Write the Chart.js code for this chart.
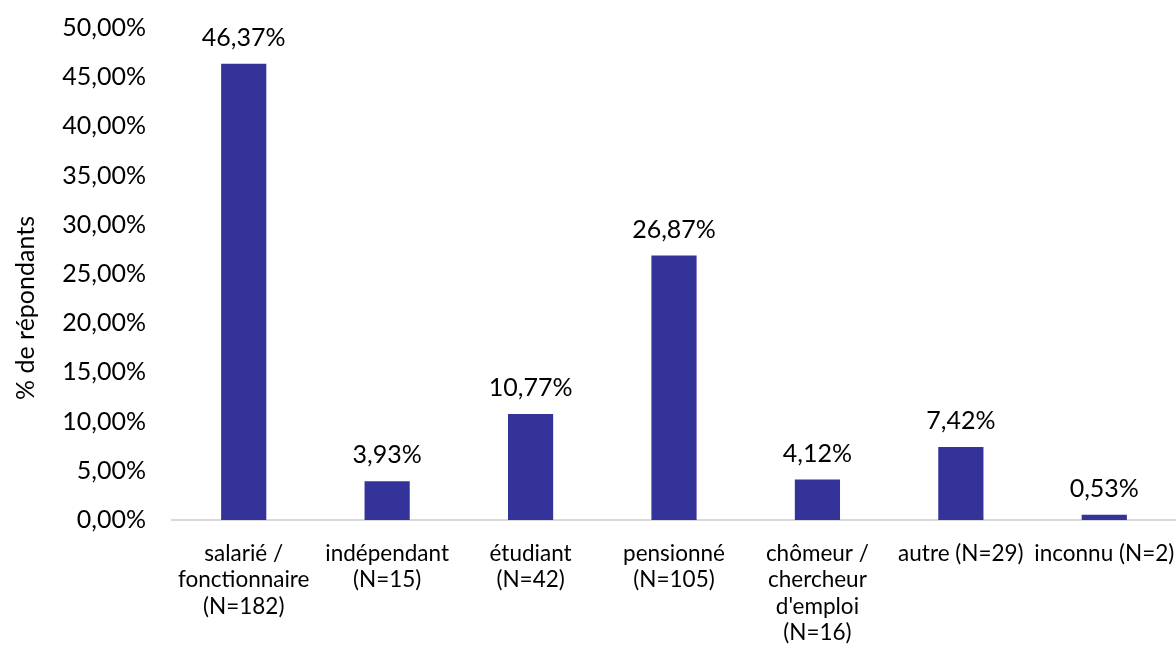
<!DOCTYPE html>
<html>
<head>
<meta charset="utf-8">
<script src="https://cdn.jsdelivr.net/npm/chart.js@4"></script>
<style>
  html, body { margin: 0; padding: 0; background: #fff; }
  #wrap { width: 1176px; height: 651px; }
</style>
</head>
<body>
<div id="wrap"><canvas id="statut"></canvas></div>
<script>
// categories (multi-line labels) and share of respondents in %
const categories = [
    ['salarié /', 'fonctionnaire', '(N=182)'],
    ['indépendant', '(N=15)'],
    ['étudiant', '(N=42)'],
    ['pensionné', '(N=105)'],
    ['chômeur /', 'chercheur', "d'emploi", '(N=16)'],
    ['autre (N=29)'],
    ['inconnu (N=2)']
];
const pourcentages = [46.37, 3.93, 10.77, 26.87, 4.12, 7.42, 0.53];
const yMax = 50;
const yStep = 5;
const yTitle = '% de répondants';

const police = 'Lato, "Noto Sans", sans-serif';

function fmt(v) {
    return v.toFixed(2).replace('.', ',') + '%';
}

// writes the value above each bar
const etiquettes = {
    id: 'etiquettes',
    afterDatasetsDraw(chart) {
        let ctx = chart.ctx;
        let meta = chart.getDatasetMeta(0);
        ctx.save();
        ctx.font = '25px ' + police;
        ctx.fillStyle = '#000';
        ctx.textAlign = 'center';
        ctx.textBaseline = 'middle';
        meta.data.forEach(function (bar, i) {
            ctx.fillText(fmt(pourcentages[i]), bar.x, bar.y - 26);
        });
        ctx.restore();
    }
};

// rotated y title, placed a bit lower than the plot centre
const titreY = {
    id: 'titreY',
    afterDraw(chart) {
        let ctx = chart.ctx;
        ctx.save();
        ctx.translate(26, 308);
        ctx.rotate(-Math.PI / 2);
        ctx.font = '25px ' + police;
        ctx.fillStyle = '#000';
        ctx.textAlign = 'center';
        ctx.textBaseline = 'middle';
        ctx.fillText(yTitle, 0, 0);
        ctx.restore();
    }
};

let chartdata = {
    labels: categories,
    datasets: [{
        data: pourcentages,
        backgroundColor: '#333399',
        borderWidth: 0,
        barPercentage: 0.63,
        categoryPercentage: 0.5
    }]
};

let ctx = document.getElementById('statut');
let myBarChart = new Chart(ctx, {
    type: 'bar',
    data: chartdata,
    plugins: [etiquettes, titreY],
    options: {
        responsive: true,
        maintainAspectRatio: false,
        animation: false,
        layout: { padding: { top: 28, right: 0, left: 0, bottom: 0 } },
        plugins: {
            legend: { display: false },
            tooltip: { enabled: false }
        },
        scales: {
            x: {
                grid: { display: false, drawTicks: false },
                border: { color: '#d9d9d9', width: 2 },
                ticks: {
                    color: '#000',
                    font: { size: 22.5, family: police, lineHeight: 1.18 },
                    padding: 20,
                    maxRotation: 0,
                    autoSkip: false
                },
                afterFit(scale) {
                    scale.height = 131;
                    scale.paddingLeft = 0;
                    scale.paddingRight = 0;
                }
            },
            y: {
                min: 0,
                max: yMax,
                grid: { display: false, drawTicks: false },
                border: { display: false },
                ticks: {
                    stepSize: yStep,
                    color: '#000',
                    font: { size: 25, family: police },
                    padding: 26,
                    callback: function (v) { return fmt(v); }
                },
                afterFit(scale) {
                    scale.width = 172;
                    scale.paddingTop = 0;
                    scale.paddingBottom = 0;
                }
            }
        }
    }
});
</script>
</body>
</html>
